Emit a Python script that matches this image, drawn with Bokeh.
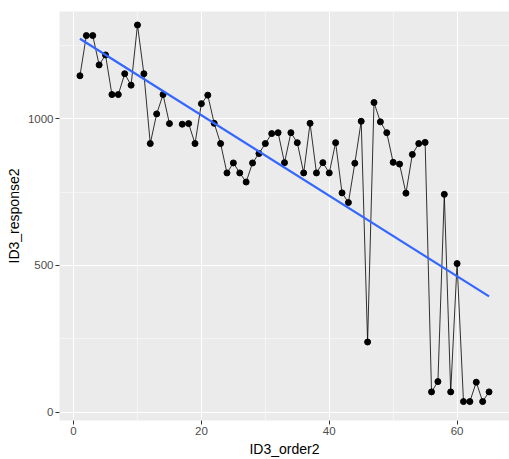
import numpy as np
from bokeh.plotting import figure
from bokeh.models import Range1d, FixedTicker, ColumnDataSource
from bokeh.embed import file_html
from bokeh.resources import INLINE

order = list(range(1, 66))
response = [1146, 1283, 1283, 1183, 1217, 1082, 1082, 1153, 1114, 1319,
            1153, 915, 1016, 1082, 983, float("nan"), 981, 983, 915, 1051,
            1080, 984, 915, 815, 849, 815, 784, 849, 881, 915,
            949, 952, 850, 952, 918, 815, 984, 815, 850, 815,
            918, 747, 714, 848, 991, 239, 1055, 989, 952, 851,
            845, 746, 878, 915, 919, 69, 104, 742, 69, 506,
            36, 36, 102, 36, 69]
x_ticks = [0, 20, 40, 60]
x_minor = [10, 30, 50]
y_ticks = [0, 500, 1000]
y_minor = [250, 750, 1250]

FONT = "Liberation Sans"

p = figure(width=509, height=459, x_range=Range1d(-2.2, 68.2), y_range=Range1d(-28.5, 1365),
           output_backend="svg", toolbar_location=None,
           min_border_left=59, min_border_right=0, min_border_top=11, min_border_bottom=37)
p.background_fill_color = "#EBEBEB"
p.border_fill_color = "white"
p.outline_line_color = None

p.xaxis.ticker = FixedTicker(ticks=x_ticks, minor_ticks=x_minor)
p.yaxis.ticker = FixedTicker(ticks=y_ticks, minor_ticks=y_minor)
for g in (p.xgrid, p.ygrid):
    g.grid_line_color = "white"
    g.grid_line_width = 1.1
    g.minor_grid_line_color = "white"
    g.minor_grid_line_width = 0.5

for ax in (p.xaxis, p.yaxis):
    ax.axis_line_color = None
    ax.major_tick_line_color = "#333333"
    ax.major_tick_out = 4
    ax.major_tick_in = 0
    ax.minor_tick_line_color = None
    ax.major_label_text_color = "#4D4D4D"
    ax.major_label_text_font = FONT
    ax.major_label_text_font_size = "11.5px"
    ax.major_label_standoff = 2
    ax.axis_label_text_font = FONT
    ax.axis_label_text_font_size = "14px"
    ax.axis_label_text_font_style = "normal"
    ax.axis_label_text_color = "black"
    ax.axis_label_standoff = 3

p.xaxis.axis_label = "ID3_order2"
p.yaxis.axis_label = "ID3_response2"

src = ColumnDataSource(dict(x=order, y=response))
p.line("x", "y", source=src, line_color="black", line_width=0.8)
p.scatter("x", "y", source=src, size=6, fill_color="black", line_color="black")

xa = np.array(order, dtype=float)
ya = np.array(response, dtype=float)
m = ~np.isnan(ya)
b1, b0 = np.polyfit(xa[m], ya[m], 1)
xl = [xa[m].min(), xa[m].max()]
p.line(xl, [b0 + b1 * v for v in xl], line_color="#3366FF", line_width=2.2)

open("out.html", "w").write(file_html(p, INLINE))
